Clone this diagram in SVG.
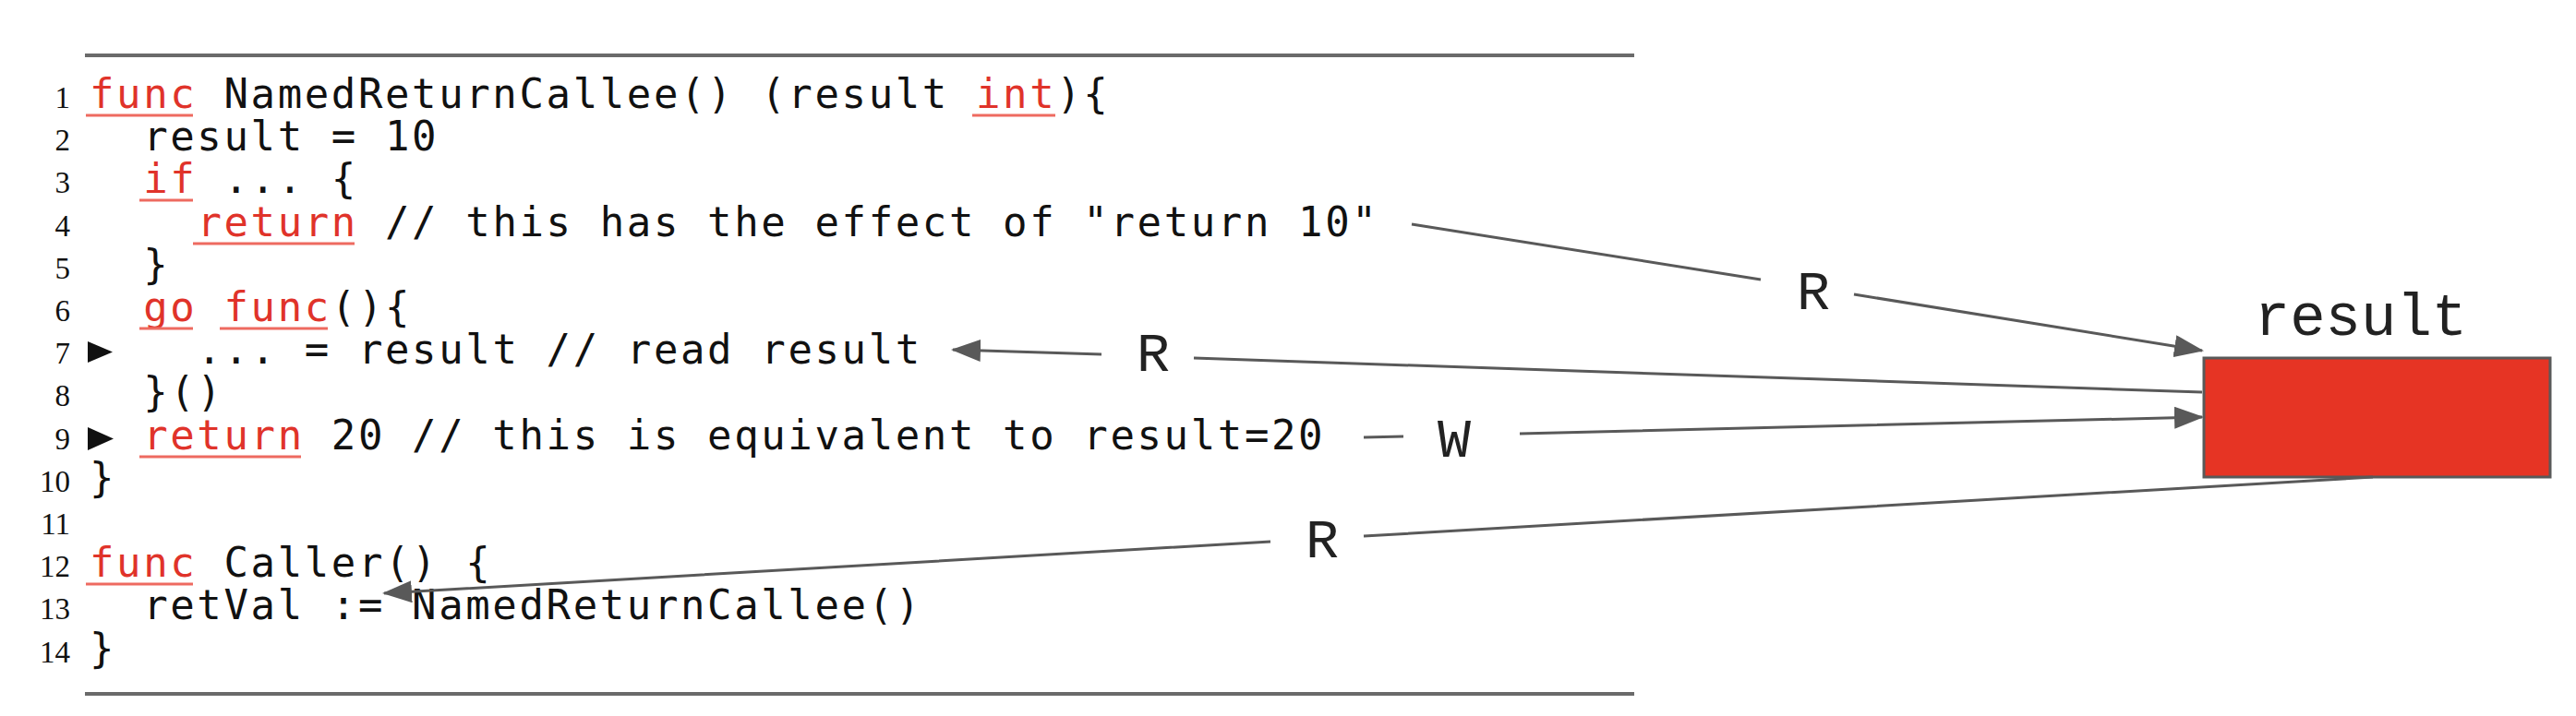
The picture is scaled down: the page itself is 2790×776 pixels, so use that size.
<svg xmlns="http://www.w3.org/2000/svg" width="2790" height="776" viewBox="0 0 2790 776">
<style>
.code{font-family:"DejaVu Sans Mono","Liberation Mono",monospace;font-size:44px;letter-spacing:2.6px;fill:#111}
.kw{fill:#e0332a}
.ul{stroke:#ee6a60;stroke-width:3}
.ln{font-family:"Liberation Serif",serif;font-size:33px;fill:#111;text-anchor:end}
.rule{stroke:#6a6a6a;stroke-width:4}
.conn{fill:none;stroke:#595959;stroke-width:3}
.lbl{font-family:"Liberation Mono","Courier New",monospace;font-size:60px;fill:#222;text-anchor:middle}
.mk{fill:#111}
</style>
<defs>
<marker id="arr" viewBox="0 0 32 24" refX="30" refY="12" markerWidth="32" markerHeight="24" markerUnits="userSpaceOnUse" orient="auto">
<path d="M0,0 L32,12 L0,24 z" fill="#595959"/>
</marker>
</defs>
<rect width="2790" height="776" fill="#fff"/>
<g id="listing">
<line class="rule" x1="92" y1="60" x2="1770" y2="60"/>
<line class="rule" x1="92" y1="752" x2="1770" y2="752"/>
<g id="linenumbers">
<text class="ln" x="76" y="117">1</text>
<text class="ln" x="76" y="163">2</text>
<text class="ln" x="76" y="209">3</text>
<text class="ln" x="76" y="256">4</text>
<text class="ln" x="76" y="302">5</text>
<text class="ln" x="76" y="348">6</text>
<text class="ln" x="76" y="394">7</text>
<text class="ln" x="76" y="440">8</text>
<text class="ln" x="76" y="487">9</text>
<text class="ln" x="76" y="533">10</text>
<text class="ln" x="76" y="579">11</text>
<text class="ln" x="76" y="625">12</text>
<text class="ln" x="76" y="671">13</text>
<text class="ln" x="76" y="718">14</text>
</g>
<polygon class="mk" points="95,370 95,393 122,381.5"/>
<polygon class="mk" points="95,463 95,488 123,475.5"/>
<g id="codelines">
<text class="code" x="97" y="117"><tspan class="kw">func</tspan> NamedReturnCallee() (result <tspan class="kw">int</tspan>){</text>
<text class="code" x="155.2" y="163">result = 10</text>
<text class="code" x="155.2" y="209"><tspan class="kw">if</tspan> ... {</text>
<text class="code" x="213.4" y="256"><tspan class="kw">return</tspan> // this has the effect of "return 10"</text>
<text class="code" x="155.2" y="302">}</text>
<text class="code" x="155.2" y="348"><tspan class="kw">go</tspan> <tspan class="kw">func</tspan>(){</text>
<text class="code" x="213.4" y="394">... = result // read result</text>
<text class="code" x="155.2" y="440">}()</text>
<text class="code" x="155.2" y="487"><tspan class="kw">return</tspan> 20 // this is equivalent to result=20</text>
<text class="code" x="97" y="533">}</text>
<text class="code" x="97" y="625"><tspan class="kw">func</tspan> Caller() {</text>
<text class="code" x="155.2" y="671">retVal := NamedReturnCallee()</text>
<text class="code" x="97" y="718">}</text>
</g>
<g id="underlines">
<line class="ul" x1="93" y1="125" x2="209" y2="125"/>
<line class="ul" x1="1053" y1="125" x2="1143" y2="125"/>
<line class="ul" x1="151" y1="217" x2="209" y2="217"/>
<line class="ul" x1="209" y1="264" x2="384" y2="264"/>
<line class="ul" x1="151" y1="356" x2="209" y2="356"/>
<line class="ul" x1="238" y1="356" x2="355" y2="356"/>
<line class="ul" x1="151" y1="495" x2="326" y2="495"/>
<line class="ul" x1="93" y1="633" x2="209" y2="633"/>
</g>
</g>
<g id="result">
<text class="lbl" x="2557" y="363" style="font-size:64px">result</text>
<rect x="2387" y="388" width="375" height="129" fill="#e63424" stroke="#595959" stroke-width="3"/>
</g>
<g id="connectors">
<path class="conn" d="M1529,243 L1907,303 M2008,319 L2385,380" marker-end="url(#arr)"/>
<path class="conn" d="M2385,425 L1293,388 M1193,384 L1032,379" marker-end="url(#arr)"/>
<path class="conn" d="M1477,474 L1520,473 M1646,470 L2385,452" marker-end="url(#arr)"/>
<path class="conn" d="M2570,517 L1477,581 M1376,587 L416,643" marker-end="url(#arr)"/>
<text class="lbl" x="1964" y="335">R</text>
<text class="lbl" x="1249" y="402">R</text>
<text class="lbl" x="1575" y="495">W</text>
<text class="lbl" x="1432" y="604">R</text>
</g>
</svg>
